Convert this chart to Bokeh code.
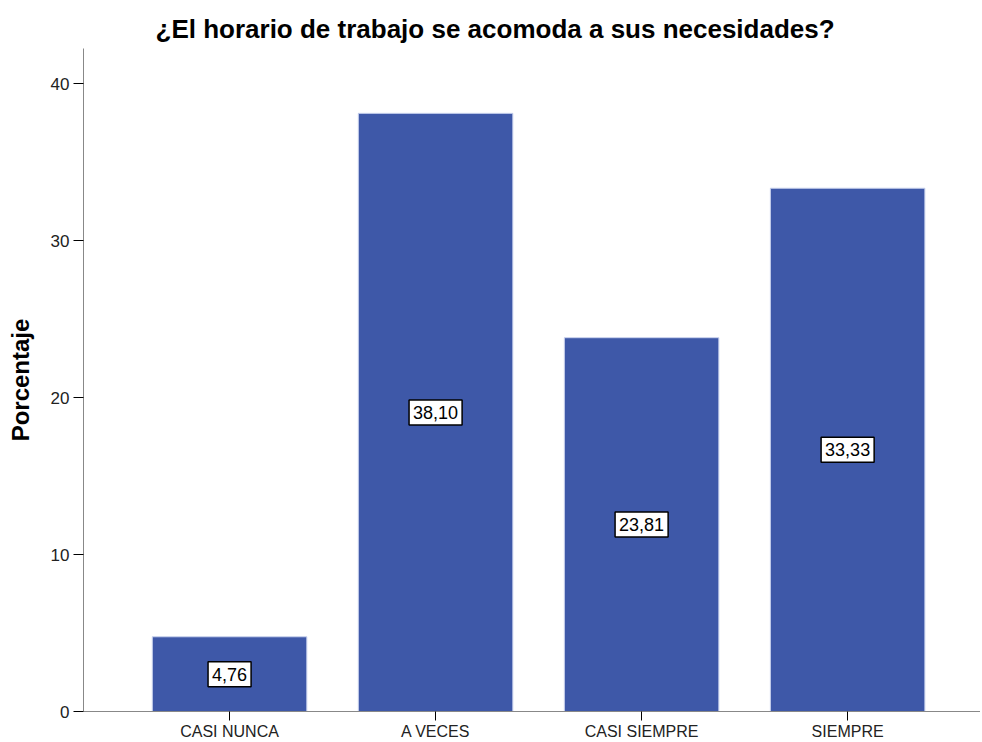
from bokeh.plotting import figure
from bokeh.models import ColumnDataSource, Range1d, FixedTicker
from bokeh.core.properties import value
from bokeh.embed import file_html
from bokeh.resources import INLINE

categories = ["CASI NUNCA", "A VECES", "CASI SIEMPRE", "SIEMPRE"]
values = [4.76, 38.10, 23.81, 33.33]
value_labels = ["4,76", "38,10", "23,81", "33,33"]
y_ticks = [0, 10, 20, 30, 40]

xpos = list(range(1, len(categories) + 1))
source = ColumnDataSource(dict(
    x=xpos, top=values, mid=[v / 2 for v in values], lab=value_labels))

FONT = "Liberation Sans"

# frame: left 83, right 980, top 48, bottom 711  -> 206 px per category
p = figure(width=980, height=742, output_backend="svg", toolbar_location=None,
           x_range=Range1d(0.291, 4.645), y_range=Range1d(0, 42.23),
           min_border_left=83, min_border_right=0, min_border_top=48,
           min_border_bottom=31)

p.vbar(x="x", top="top", width=0.75, source=source,
       fill_color="#3E58A8", line_color="#C9D2EE", line_width=1)

p.text(x="x", y="mid", text="lab", source=source,
       text_align="center", text_baseline="middle",
       text_font=value(FONT), text_font_size="18px", text_color="black",
       background_fill_color="white", border_line_color="black",
       border_line_width=1.5, padding=(4, 6))

p.title.text = "¿El horario de trabajo se acomoda a sus necesidades?"
p.title.align = "left"
p.title.offset = 72
p.title.text_font = FONT
p.title.text_font_size = "26px"
p.title.text_font_style = "bold"
p.title.text_color = "black"

p.xaxis.ticker = FixedTicker(ticks=xpos)
p.xaxis.major_label_overrides = {i: c for i, c in zip(xpos, categories)}
p.xaxis.minor_tick_line_color = None
p.xaxis.major_tick_in = 0
p.xaxis.major_tick_out = 9
p.xaxis.major_label_standoff = 2
p.xaxis.major_label_text_font = FONT
p.xaxis.major_label_text_font_size = "16px"
p.xaxis.major_label_text_color = "#222222"
p.xaxis.axis_line_color = "#888888"
p.xaxis.major_tick_line_color = "black"

p.yaxis.ticker = FixedTicker(ticks=y_ticks)
p.yaxis.minor_tick_line_color = None
p.yaxis.major_tick_in = 0
p.yaxis.major_tick_out = 10
p.yaxis.major_label_standoff = 4
p.yaxis.major_label_text_font = FONT
p.yaxis.major_label_text_font_size = "17px"
p.yaxis.major_label_text_color = "#222222"
p.yaxis.axis_line_color = "#888888"
p.yaxis.major_tick_line_color = "black"
p.yaxis.axis_label = "Porcentaje"
p.yaxis.axis_label_text_font = FONT
p.yaxis.axis_label_text_font_size = "24px"
p.yaxis.axis_label_text_font_style = "bold"
p.yaxis.axis_label_text_color = "black"
p.yaxis.axis_label_standoff = 14

p.xgrid.grid_line_color = None
p.ygrid.grid_line_color = None
p.outline_line_color = None
p.background_fill_color = "white"
p.border_fill_color = "white"

open("out.html", "w").write(file_html(p, INLINE))
